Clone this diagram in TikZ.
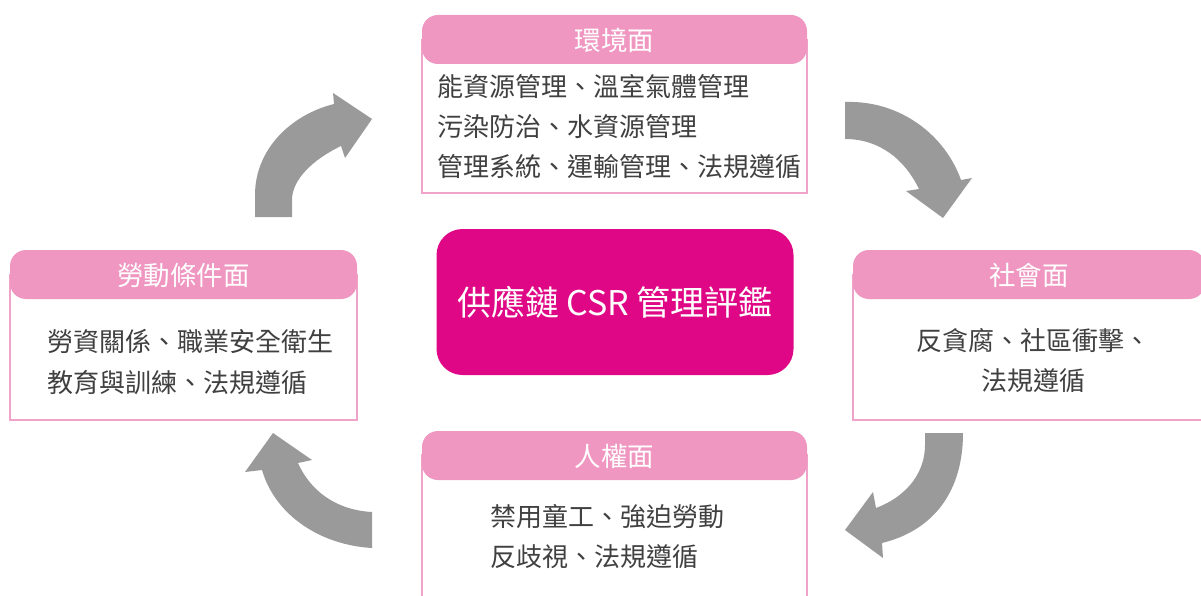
\documentclass[tikz,border=0pt]{standalone}
\usepackage{fontspec}
\setmainfont{Noto Sans CJK TC}
\definecolor{headpink}{HTML}{EF97C1}
\definecolor{framepink}{HTML}{F0A3C9}
\definecolor{csrmagenta}{HTML}{DF0785}
\definecolor{arrowgray}{HTML}{9A9A9A}
\definecolor{bodygray}{HTML}{404040}
\tikzset{
  frame/.style={draw=framepink,line width=2pt,fill=white},
  head/.style={fill=headpink,rounded corners=16pt},
  headtext/.style={text=white,inner sep=0pt,font=\fontsize{26.5}{30}\selectfont},
  bodytext/.style={text=bodygray,align=left,inner sep=0pt,font=\fontsize{26}{40}\selectfont},
  cyclearrow/.style={fill=arrowgray},
}
\begin{document}
\begin{tikzpicture}[x=1pt,y=-1pt]
  \useasboundingbox (0,0) rectangle (1201,596);
  \fill[cyclearrow] (255,217) -- (255,195) .. controls (255,150) and (290,115) .. (334,104) -- (333,93) -- (372,119) -- (345,158) -- (341,146) .. controls (312,160) and (292,180) .. (292,200) -- (292,217) -- cycle;
  \fill[cyclearrow] (845,102) .. controls (900,100) and (945,135) .. (961,180) -- (972,178) -- (943,218) -- (906,191) -- (919,189) .. controls (905,160) and (880,139) .. (845,139) -- cycle;
  \fill[cyclearrow] (925,433) -- (963,433) .. controls (963,490) and (935,530) .. (882,543) -- (883,558) -- (845,530) -- (873,492) -- (876,508) .. controls (910,495) and (925,470) .. (925,445) -- cycle;
  \fill[cyclearrow] (372,512) -- (372,548) .. controls (320,545) and (275,515) .. (262,470) -- (245,472) -- (273,433) -- (312,460) -- (298,463) .. controls (310,490) and (335,510) .. (372,512) -- cycle;
  \draw[frame] (422,40) rectangle (807,193);
  \fill[head] (422,15) rectangle (807,64);
  \node[headtext] (envhead) at (614.5,40) {環境面};
  \node[bodytext,anchor=west] (envbody) at (437,127) {能資源管理、溫室氣體管理\\污染防治、水資源管理\\管理系統、運輸管理、法規遵循};
  \draw[frame] (10,275) rectangle (357,420);
  \fill[head] (10,250) rectangle (357,299);
  \node[headtext] (laborhead) at (183.5,275) {勞動條件面};
  \node[bodytext,anchor=west] (laborbody) at (47,362) {勞資關係、職業安全衛生\\教育與訓練、法規遵循};
  \draw[frame] (853,275) rectangle (1205,420);
  \fill[head] (853,250) rectangle (1205,299);
  \node[headtext] (sochead) at (1029,275) {社會面};
  \node[bodytext,align=center] (socbody) at (1033,361) {反貪腐、社區衝擊、\\法規遵循};
  \draw[frame] (422,455) rectangle (807,610);
  \fill[head] (422,431) rectangle (807,480);
  \node[headtext] (righthead) at (614.5,456) {人權面};
  \node[bodytext,anchor=west] (rightbody) at (490,537) {禁用童工、強迫勞動\\反歧視、法規遵循};
  \node[fill=csrmagenta,rounded corners=26pt,minimum width=357pt,minimum height=146pt,text=white,font=\fontsize{34}{40}\selectfont] (csr) at (615,302) {供應鏈 CSR 管理評鑑};
\end{tikzpicture}
\end{document}
